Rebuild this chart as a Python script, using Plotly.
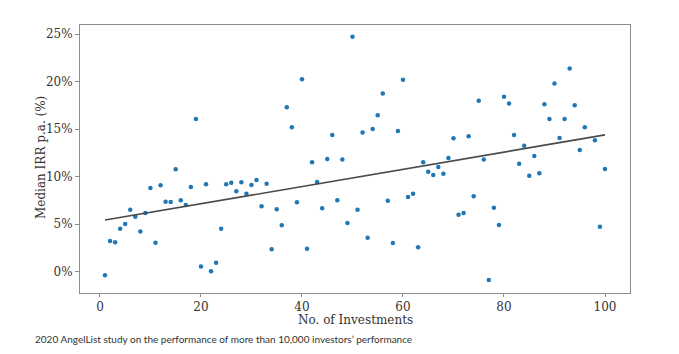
import plotly.graph_objects as go

# Number of investments (no point at 97)
investments = [
    1, 2, 3, 4, 5, 6, 7, 8, 9, 10,
    11, 12, 13, 14, 15, 16, 17, 18, 19, 20,
    21, 22, 23, 24, 25, 26, 27, 28, 29, 30,
    31, 32, 33, 34, 35, 36, 37, 38, 39, 40,
    41, 42, 43, 44, 45, 46, 47, 48, 49, 50,
    51, 52, 53, 54, 55, 56, 57, 58, 59, 60,
    61, 62, 63, 64, 65, 66, 67, 68, 69, 70,
    71, 72, 73, 74, 75, 76, 77, 78, 79, 80,
    81, 82, 83, 84, 85, 86, 87, 88, 89, 90,
    91, 92, 93, 94, 95, 96, 98, 99, 100,
]

# Median IRR p.a. (%)
median_irr = [
    -0.35, 3.23, 3.10, 4.53, 5.02, 6.53, 5.79, 4.25, 6.18, 8.82,
    3.05, 9.10, 7.37, 7.34, 10.78, 7.52, 7.02, 8.92, 16.08, 0.57,
    9.20, 0.07, 0.95, 4.53, 9.20, 9.37, 8.47, 9.42, 8.21, 9.13,
    9.66, 6.89, 9.27, 2.36, 6.57, 4.89, 17.31, 15.21, 7.31, 20.26,
    2.42, 11.52, 9.45, 6.68, 11.87, 14.40, 7.52, 11.80, 5.13, 24.72,
    6.53, 14.64, 3.58, 15.03, 16.47, 18.75, 7.48, 3.02, 14.82, 20.19,
    7.87, 8.21, 2.57, 11.52, 10.53, 10.18, 11.03, 10.32, 11.97, 14.05,
    6.00, 6.18, 14.26, 7.94, 17.98, 11.80, -0.87, 6.74, 4.92, 18.40,
    17.69, 14.40, 11.37, 13.27, 10.11, 12.19, 10.36, 17.63, 16.08, 19.80,
    14.08, 16.08, 21.38, 17.53, 12.82, 15.21, 13.84, 4.74, 10.82,
]

# Trend line end points
trend_x = [1, 100]
trend_y = [5.44, 14.40]

x_ticks = [0, 20, 40, 60, 80, 100]
y_ticks = [0, 5, 10, 15, 20, 25]
y_tick_labels = ["0%", "5%", "10%", "15%", "20%", "25%"]

x_title = "No. of Investments"
y_title = "Median IRR p.a. (%)"
caption = "2020 AngelList study on the performance of more than 10,000 investors\u2019 performance"

fig = go.Figure()
fig.add_trace(go.Scatter(
    x=investments, y=median_irr, mode="markers",
    marker=dict(color="#1f77b4", size=4.5, line=dict(width=0)),
    showlegend=False, hoverinfo="x+y",
))
fig.add_trace(go.Scatter(
    x=trend_x, y=trend_y, mode="lines",
    line=dict(color="#4a4a4a", width=1.6),
    showlegend=False, hoverinfo="skip",
))

axis_font = dict(family="DejaVu Serif", size=12, color="#333333")

# plot area: 550 x 268 px, left 80, bottom at y=293
PW, PH = 550.0, 268.0

fig.update_layout(
    width=679, height=354,
    margin=dict(l=80, r=49, t=25, b=61),
    paper_bgcolor="white", plot_bgcolor="white",
    xaxis=dict(
        range=[-3.95, 104.95], tickvals=x_ticks,
        ticks="outside", ticklen=3, tickcolor="#8c8c8c", tickwidth=1,
        showgrid=False, zeroline=False,
        showline=True, linecolor="#8c8c8c", linewidth=1, mirror=True,
        tickfont=axis_font,
    ),
    yaxis=dict(
        range=[-2.23, 25.96], tickvals=y_ticks, ticktext=y_tick_labels,
        tickmode="array",
        ticks="outside", ticklen=4, tickcolor="#8c8c8c", tickwidth=1,
        showgrid=False, zeroline=False,
        showline=True, linecolor="#8c8c8c", linewidth=1, mirror=True,
        tickfont=axis_font,
    ),
    annotations=[
        dict(text=x_title, xref="paper", yref="paper",
             x=0.5, y=-(319.5 - 293) / PH, xanchor="center", yanchor="middle",
             showarrow=False, font=axis_font),
        dict(text=y_title, xref="paper", yref="paper", textangle=-90,
             x=-(80 - 40.5) / PW, y=(293 - 157.5) / PH,
             xanchor="center", yanchor="middle",
             showarrow=False, font=axis_font),
        dict(text=caption, xref="paper", yref="paper",
             x=-47 / PW, y=-45.5 / PH, xanchor="left", yanchor="middle",
             showarrow=False, font=dict(family="Lato", size=10, color="#333333")),
    ],
)

fig.write_html("out.html")
